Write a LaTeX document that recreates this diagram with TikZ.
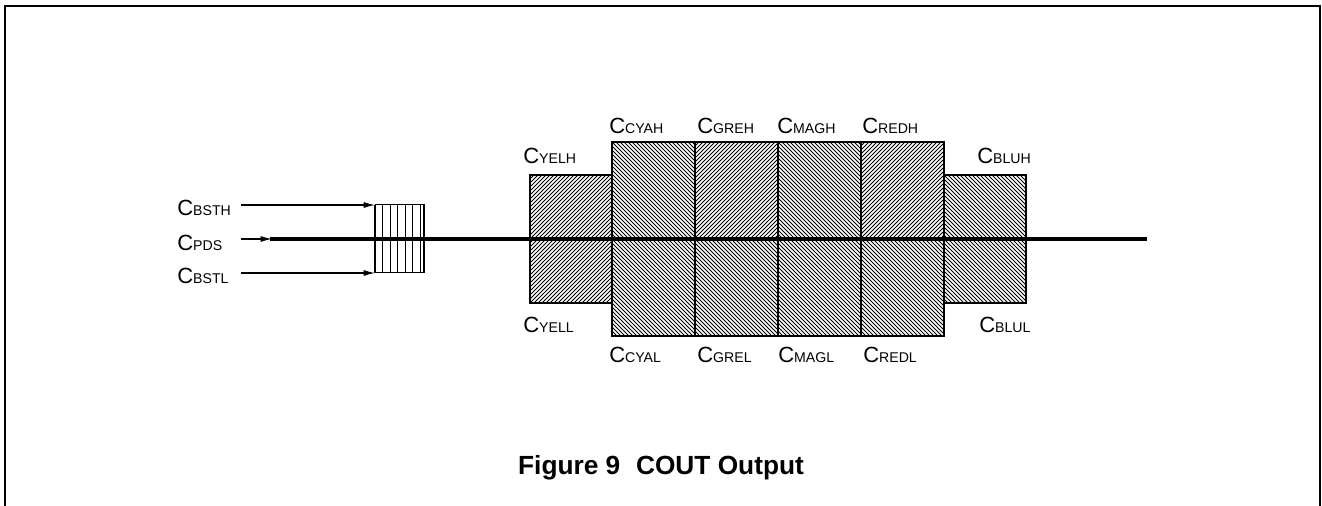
\documentclass[tikz,border=0pt]{standalone}
\usepackage{fontspec}
\setmainfont{Liberation Sans}
\usetikzlibrary{arrows.meta}
\tikzset{
  hatch line/.style={line width=0.6pt,black},
  cell edge/.style={line width=1pt},
  signal/.style={line width=0.8pt,-{Latex[length=8.5pt,width=4.5pt]}},
  main line/.style={line width=2.5pt},
  cap label/.style={anchor=base west,inner sep=0pt},
}
% C with a smaller suffix behind it
\newcommand{\capname}[1]{{\fontsize{16.5}{18}\selectfont C}{\fontsize{10.6}{12}\selectfont #1}}
% one hatched cell: x1, y1, x2, y2, direction
\newcommand{\hatchcell}[5]{%
  \begin{scope}
    \clip (#1,#2) rectangle (#3,#4);
    \foreach \hk in {0,4,...,480}
      \draw[hatch line] (#1-200+\hk,#2) -- ++(#5*200,200);
  \end{scope}
  \draw[cell edge] (#1,#2) rectangle (#3,#4);
}
\begin{document}
\begin{tikzpicture}[x=0.75pt,y=0.75pt,yscale=-1,xscale=1]
\useasboundingbox (0,0) rectangle (1322,506);
% frame, open at the bottom
\draw[line width=0.9pt] (5,506) -- (5,6) -- (1320,6) -- (1320,506);
% upper half
\hatchcell{530}{175}{612}{239}{-1}
\hatchcell{612}{142}{695}{239}{1}
\hatchcell{695}{142}{778}{239}{-1}
\hatchcell{778}{142}{861}{239}{1}
\hatchcell{861}{142}{944}{239}{-1}
\hatchcell{944}{175}{1026}{239}{1}
% lower half
\hatchcell{530}{239}{612}{303}{-1}
\hatchcell{612}{239}{695}{336}{1}
\hatchcell{695}{239}{778}{336}{1}
\hatchcell{778}{239}{861}{336}{1}
\hatchcell{861}{239}{944}{336}{1}
\hatchcell{944}{239}{1026}{303}{1}
% boost cell
\node[draw,line width=0.75pt,minimum width=36.75pt,minimum height=51pt,inner sep=0pt,outer sep=0pt] (boost) at (399.5,239) {};
\foreach \bx in {382.5,390,...,420}
  \draw[line width=0.75pt] (\bx,205) -- (\bx,273);
\draw[line width=2.2pt] (boost.north west) -- (boost.south west);
\draw[line width=2.2pt] (boost.north east) -- (boost.south east);
% labels
\node[cap label] (cbsth) at (177,216) {\capname{BSTH}};
\node[cap label] (cpds) at (177,251) {\capname{PDS}};
\node[cap label] (cbstl) at (177,284) {\capname{BSTL}};
\node[cap label] (cyelh) at (523,164) {\capname{YELH}};
\node[cap label] (ccyah) at (609,134) {\capname{CYAH}};
\node[cap label] (cgreh) at (697,134) {\capname{GREH}};
\node[cap label] (cmagh) at (777,134) {\capname{MAGH}};
\node[cap label] (credh) at (862,134) {\capname{REDH}};
\node[cap label] (cbluh) at (977,164) {\capname{BLUH}};
\node[cap label] (cyell) at (523,332) {\capname{YELL}};
\node[cap label] (ccyal) at (609,362) {\capname{CYAL}};
\node[cap label] (cgrel) at (697,362) {\capname{GREL}};
\node[cap label] (cmagl) at (778,362) {\capname{MAGL}};
\node[cap label] (credl) at (863,362) {\capname{REDL}};
\node[cap label] (cblul) at (979,332) {\capname{BLUL}};
\node[anchor=base,inner sep=0pt,font=\fontsize{19.7}{22}\selectfont\bfseries] (title) at (661,474) {Figure 9\hspace{0.6em}COUT Output};
% connectors
\coordinate (bsth in) at (241,205);
\coordinate (bstl in) at (241,273);
\coordinate (pds in) at (241,239);
\coordinate (pds tip) at (272,239);
\coordinate (main start) at (270,239);
\coordinate (main end) at (1147,239);
\draw[signal] (bsth in) -- (boost.north west);
\draw[signal] (bstl in) -- (boost.south west);
\draw[signal] (pds in) -- (pds tip);
\draw[main line] (main start) -- (main end);
\end{tikzpicture}
\end{document}
